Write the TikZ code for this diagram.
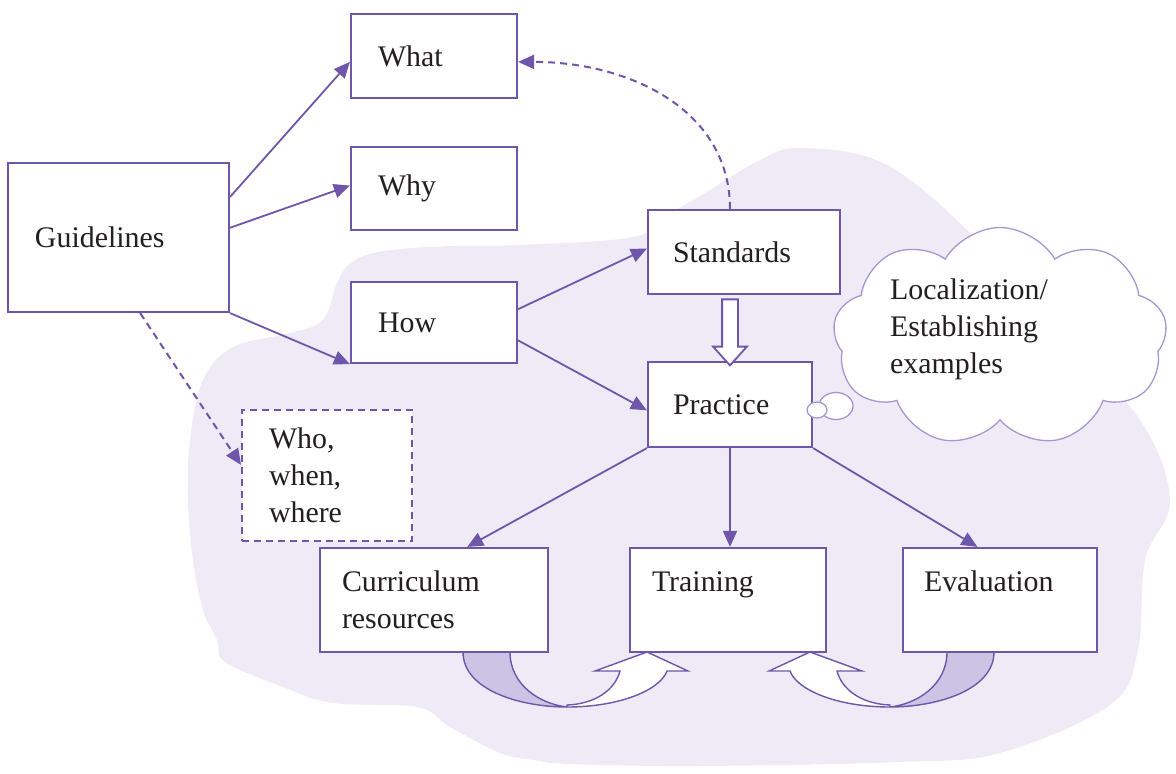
\documentclass[tikz,border=0pt]{standalone}
\usepackage{fontspec}
\setmainfont{Liberation Serif}
\usetikzlibrary{arrows.meta,shapes.symbols,shapes.arrows,shapes.geometric}
\definecolor{edgecol}{RGB}{110,86,170}
\definecolor{blobcol}{RGB}{238,235,246}
\definecolor{bandcol}{RGB}{204,196,228}
\definecolor{cloudcol}{RGB}{165,152,210}
\definecolor{textcol}{RGB}{35,31,32}
\newcommand\diagfont{\fontsize{30}{37}\selectfont}
\newcommand\twistarrow{%
 \filldraw[band] (463,652) .. controls (463,690) and (520,707) .. (567,707)
  .. controls (540,704) and (510,685) .. (510,652) -- cycle;
 \filldraw[flat] (567,707) .. controls (620,707) and (660,690) .. (667,671)
  -- (688,671) -- (647,652) -- (595,671) -- (620,671)
  .. controls (615,690) and (595,704) .. (567,705) -- cycle;}
\tikzset{
 box/.style={draw=edgecol, line width=2.2bp, fill=white, text=textcol, font=\diagfont,
  align=left, inner xsep=27bp, inner ysep=0pt},
 link/.style={draw=edgecol, line width=1.8bp, -{Triangle[length=16bp,width=14bp]}},
 hint/.style={link, line width=2bp, dash pattern=on 7bp off 5bp},
 band/.style={draw=edgecol, line width=1.4bp, fill=bandcol},
 flat/.style={draw=edgecol, line width=1.4bp, fill=white},
 puff/.style={draw=cloudcol, line width=1.3bp, fill=white}
}
\begin{document}
\begin{tikzpicture}[x=1bp,y=-1bp]
\useasboundingbox (0,0) rectangle (1176,774);
\fill[blobcol] plot[smooth cycle, tension=0.6] coordinates {
 (800,148) (883,163) (967,230) (1060,335) (1140,420) (1170,500) (1145,560)
 (1138,650) (1110,705) (1000,753) (900,762) (700,766) (570,764) (533,760)
 (500,753) (450,727) (417,707) (333,703) (283,687) (225,662) (217,640)
 (203,610) (193,560) (188,500) (190,440) (203,380) (233,347) (290,333)
 (323,320) (337,283) (352,262) (384,251) (450,246) (517,245) (633,237)
 (671,213) (710,190) (760,160)};
\twistarrow
\begin{scope}[shift={(1457,0)},xscale=-1]
\twistarrow
\end{scope}
\node[box, minimum width=221bp, text width=167bp, minimum height=149bp] (guide) at (118.5,237.5) {Guidelines};
\node[box, minimum width=166bp, text width=112bp, minimum height=84bp] (what) at (434,56) {What};
\node[box, minimum width=166bp, text width=112bp, minimum height=83bp] (why) at (434,188.5) {Why};
\node[box, minimum width=166bp, text width=112bp, minimum height=81bp] (how) at (434,322.5) {How};
\node[box, line width=2bp, dash pattern=on 7bp off 5bp, minimum width=170bp, text width=116bp, minimum height=131bp] (who) at (327,475.5) {Who,\\when,\\where};
\node[box, minimum width=192bp, text width=142bp, minimum height=84bp, inner xsep=25bp] (stand) at (744,252) {Standards};
\node[box, minimum width=164bp, text width=114bp, minimum height=85bp, inner xsep=25bp] (prac) at (730,404.5) {Practice};
\node[box, minimum width=228bp, text width=184bp, minimum height=104bp, inner xsep=22bp] (curr) at (434,600) {Curriculum\\resources};
\node[box, minimum width=196bp, text width=152bp, minimum height=104bp, inner xsep=22bp] (train) at (728,600) {Training\\ \mbox{}};
\node[box, minimum width=194bp, text width=152bp, minimum height=104bp, inner xsep=21bp] (eval) at (1000,600) {Evaluation\\ \mbox{}};
\draw[link] (guide.20) -- (what.184);
\draw[link] (guide.5) -- (why.178);
\draw[link] (guide.south east) -- (how.south west);
\draw[hint] (guide.286) -- (who.173);
\draw[link] (how.9) -- (stand.178);
\draw[link] (how.348) -- (prac.184);
\draw[hint] (stand.108) .. controls +(0,-100) and +(110,0) .. (what.356);
\draw[link] (prac.south west) -- (curr.58);
\draw[link] (prac.south) -- (prac.south |- train.north);
\draw[link] (prac.south east) -- (eval.113);
\node[single arrow, draw=edgecol, fill=white, line width=1.8bp, rotate=-90,
 minimum height=66bp, inner xsep=0pt, inner ysep=7bp, single arrow head extend=9bp,
 single arrow tip angle=84] (push) at (730,328) {};
\node[cloud, puff, cloud puffs=9, cloud puff arc=120, aspect=1.5,
 minimum width=334bp, minimum height=219bp, inner sep=0pt] (cloud) at (1000,337) {};
\node[ellipse, puff, minimum width=34bp, minimum height=27bp, inner sep=0pt] (bubble) at (836,406) {};
\node[ellipse, puff, minimum width=20bp, minimum height=16bp, inner sep=0pt] (dot) at (817,410) {};
\node[font=\diagfont, text=textcol, align=left, anchor=west, inner sep=0pt] (idea) at (890,329)
 {Localization/\\Establishing\\examples};
\end{tikzpicture}
\end{document}
